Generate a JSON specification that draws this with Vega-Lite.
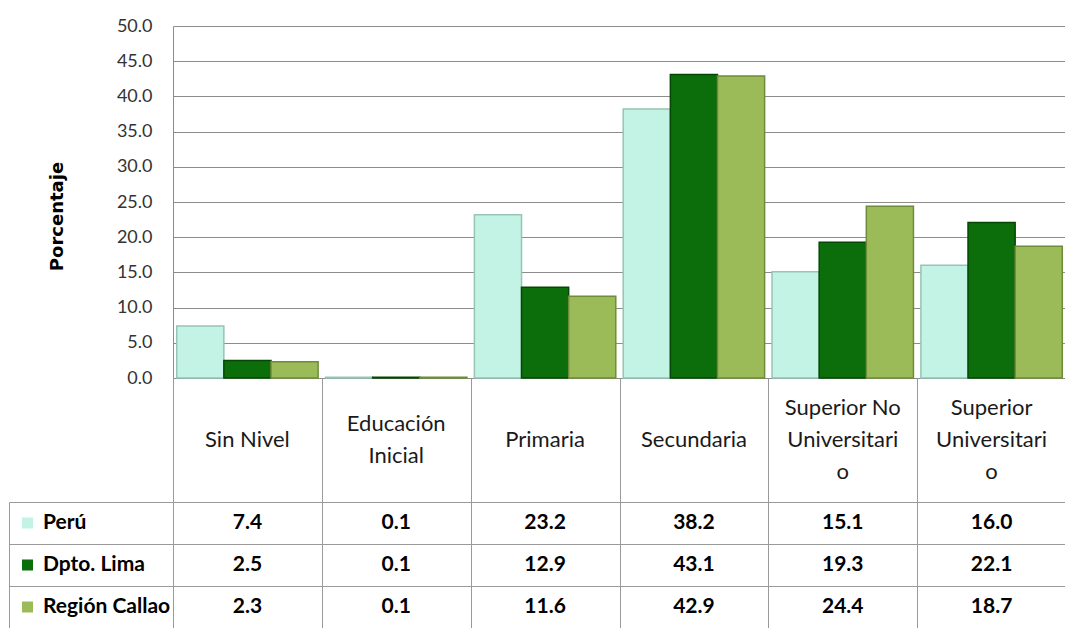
{
  "$schema": "https://vega.github.io/schema/vega-lite/v6.json",
  "padding": {"left": 8, "top": 17, "right": 0, "bottom": 0},
  "autosize": {"type": "pad"},
  "background": "white",
  "bounds": "flush",
  "spacing": 0,
  "config": {"view": {"stroke": null}, "font": "Lato"},
  "datasets": {
    "edu": [
      {"nivel": "Sin Nivel", "region": "Perú", "valor": 7.4},
      {"nivel": "Sin Nivel", "region": "Dpto. Lima", "valor": 2.5},
      {"nivel": "Sin Nivel", "region": "Región Callao", "valor": 2.3},
      {"nivel": "Educación Inicial", "region": "Perú", "valor": 0.1},
      {"nivel": "Educación Inicial", "region": "Dpto. Lima", "valor": 0.1},
      {"nivel": "Educación Inicial", "region": "Región Callao", "valor": 0.1},
      {"nivel": "Primaria", "region": "Perú", "valor": 23.2},
      {"nivel": "Primaria", "region": "Dpto. Lima", "valor": 12.9},
      {"nivel": "Primaria", "region": "Región Callao", "valor": 11.6},
      {"nivel": "Secundaria", "region": "Perú", "valor": 38.2},
      {"nivel": "Secundaria", "region": "Dpto. Lima", "valor": 43.1},
      {"nivel": "Secundaria", "region": "Región Callao", "valor": 42.9},
      {"nivel": "Superior No Universitario", "region": "Perú", "valor": 15.1},
      {"nivel": "Superior No Universitario", "region": "Dpto. Lima", "valor": 19.3},
      {"nivel": "Superior No Universitario", "region": "Región Callao", "valor": 24.4},
      {"nivel": "Superior Universitario", "region": "Perú", "valor": 16.0},
      {"nivel": "Superior Universitario", "region": "Dpto. Lima", "valor": 22.1},
      {"nivel": "Superior Universitario", "region": "Región Callao", "valor": 18.7}
    ],
    "encabezado": [
      {"nivel": "Sin Nivel", "etiqueta": "Sin Nivel"},
      {"nivel": "Educación Inicial", "etiqueta": "Educación|Inicial"},
      {"nivel": "Primaria", "etiqueta": "Primaria"},
      {"nivel": "Secundaria", "etiqueta": "Secundaria"},
      {"nivel": "Superior No Universitario", "etiqueta": "Superior No|Universitari|o"},
      {"nivel": "Superior Universitario", "etiqueta": "Superior|Universitari|o"}
    ]
  },
  "resolve": {"scale": {"x": "independent", "color": "shared"}},
  "vconcat": [
    {
      "data": {"name": "edu"},
      "width": 893,
      "height": 352,
      "mark": {"type": "bar", "strokeWidth": 1.5},
      "encoding": {
        "x": {
          "field": "nivel", "type": "nominal",
          "sort": ["Sin Nivel", "Educación Inicial", "Primaria", "Secundaria", "Superior No Universitario", "Superior Universitario"],
          "scale": {"paddingInner": 0.05, "paddingOuter": 0.025},
          "axis": {"title": null, "labels": false, "ticks": false, "domain": true, "domainColor": "#8c8c8c"}
        },
        "xOffset": {
          "field": "region", "type": "nominal",
          "sort": ["Perú", "Dpto. Lima", "Región Callao"],
          "scale": {"paddingInner": 0, "paddingOuter": 0}
        },
        "y": {
          "field": "valor", "type": "quantitative",
          "scale": {"domain": [0, 50], "nice": false},
          "axis": {
            "title": "Porcentaje", "values": [0, 5, 10, 15, 20, 25, 30, 35, 40, 45, 50], "format": ".1f",
            "grid": true, "gridColor": "#8c8c8c", "domain": true, "domainColor": "#8c8c8c",
            "ticks": false, "labelPadding": 21,
            "labelFont": "Lato", "labelFontSize": 18, "labelColor": "#333333",
            "titleFont": "DejaVu Sans", "titleFontSize": 18, "titleFontWeight": "bold", "titleColor": "#000000",
            "titlePadding": 50, "titleY": 190
          }
        },
        "color": {
          "field": "region", "type": "nominal",
          "sort": ["Perú", "Dpto. Lima", "Región Callao"],
          "scale": {"domain": ["Perú", "Dpto. Lima", "Región Callao"], "range": ["#c2f3e4", "#0b6e0b", "#9bbb59"]},
          "legend": {
            "orient": "none", "legendX": -156, "legendY": 476, "title": null, "padding": 0,
            "symbolType": "square", "symbolSize": 121, "symbolStrokeWidth": 0,
            "labelFont": "Lato", "labelFontSize": 21, "labelFontWeight": "bold", "labelColor": "#000000",
            "clipHeight": 42, "rowPadding": 0, "labelOffset": 5
          }
        },
        "stroke": {
          "field": "region", "type": "nominal",
          "scale": {"domain": ["Perú", "Dpto. Lima", "Región Callao"], "range": ["#97c4b4", "#054805", "#6f8c3a"]},
          "legend": null
        }
      }
    },
    {
      "data": {"name": "encabezado"},
      "width": 893,
      "height": 124,
      "encoding": {
        "x": {
          "field": "nivel", "type": "nominal",
          "sort": ["Sin Nivel", "Educación Inicial", "Primaria", "Secundaria", "Superior No Universitario", "Superior Universitario"],
          "scale": {"paddingInner": 0, "paddingOuter": 0},
          "axis": {"orient": "top", "title": null, "labels": false, "ticks": false, "domain": false, "grid": true, "tickBand": "extent", "gridColor": "#9a9a9a"}
        },
        "text": {"field": "etiqueta", "type": "nominal"}
      },
      "layer": [
        {
          "transform": [{"filter": {"field": "nivel", "oneOf": ["Sin Nivel", "Primaria", "Secundaria"]}}],
          "mark": {"type": "text", "font": "Lato", "fontSize": 22, "color": "#1a1a1a", "baseline": "middle", "lineBreak": "|", "lineHeight": 32, "dy": 0}
        },
        {
          "transform": [{"filter": {"field": "nivel", "oneOf": ["Educación Inicial"]}}],
          "mark": {"type": "text", "font": "Lato", "fontSize": 22, "color": "#1a1a1a", "baseline": "middle", "lineBreak": "|", "lineHeight": 32, "dy": -16}
        },
        {
          "transform": [{"filter": {"field": "nivel", "oneOf": ["Superior No Universitario", "Superior Universitario"]}}],
          "mark": {"type": "text", "font": "Lato", "fontSize": 22, "color": "#1a1a1a", "baseline": "middle", "lineBreak": "|", "lineHeight": 32, "dy": -32}
        }
      ]
    },
    {
      "data": {"name": "edu"},
      "width": 893,
      "height": 126,
      "mark": {"type": "text", "font": "Lato", "fontSize": 21, "fontWeight": "bold", "color": "#000000", "baseline": "middle"},
      "encoding": {
        "x": {
          "field": "nivel", "type": "nominal",
          "sort": ["Sin Nivel", "Educación Inicial", "Primaria", "Secundaria", "Superior No Universitario", "Superior Universitario"],
          "scale": {"paddingInner": 0, "paddingOuter": 0},
          "axis": {"orient": "top", "title": null, "labels": false, "ticks": false, "domain": false, "grid": true, "tickBand": "extent", "gridColor": "#9a9a9a"}
        },
        "y": {
          "field": "region", "type": "nominal",
          "sort": ["Perú", "Dpto. Lima", "Región Callao"],
          "scale": {"paddingInner": 0, "paddingOuter": 0},
          "axis": {
            "title": null, "labels": false, "grid": true, "gridColor": "#9a9a9a", "tickBand": "extent",
            "domain": true, "domainColor": "#9a9a9a", "ticks": true, "tickColor": "#9a9a9a", "tickSize": -164, "offset": 164
          }
        },
        "text": {"field": "valor", "type": "quantitative", "format": ".1f"}
      }
    }
  ]
}
